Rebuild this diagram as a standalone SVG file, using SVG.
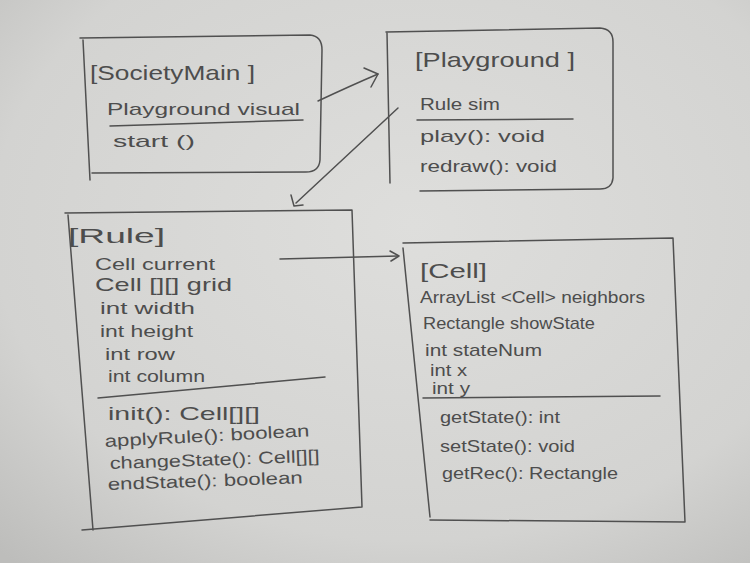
<svg xmlns="http://www.w3.org/2000/svg" width="750" height="563" viewBox="0 0 750 563">
<defs>
<radialGradient id="paper" cx="0.55" cy="0.4" r="0.8">
<stop offset="0" stop-color="#dededc"/>
<stop offset="0.7" stop-color="#d3d3d1"/>
<stop offset="1" stop-color="#bdbdbb"/>
</radialGradient>
<style>
.ln{fill:none;stroke:#505050;stroke-width:1.5;stroke-linecap:round;stroke-linejoin:round}
.t{font-family:"Liberation Sans","DejaVu Sans",sans-serif;fill:#4d4d4d;font-size:17px}
.w{font-size:19px}
.h{font-family:"Liberation Sans","DejaVu Sans",sans-serif;fill:#4d4d4d;font-size:21px}
</style>
</defs>
<rect width="750" height="563" fill="url(#paper)"/>

<g id="node-societymain">
<path class="ln" d="M83,40 L90,180"/>
<path class="ln" d="M80,38 L310,35 Q322,36 322,50 L320,160 Q319,172 306,172 L92,173"/>
<text class="h" x="90" y="80" textLength="165" lengthAdjust="spacingAndGlyphs">[SocietyMain ]</text>
<text class="t" x="107" y="115" textLength="193" lengthAdjust="spacingAndGlyphs">Playground visual</text>
<path class="ln" d="M110,126 L303,120"/>
<text class="t" x="113" y="147" textLength="82" lengthAdjust="spacingAndGlyphs">start ()</text>
</g>

<g id="node-playground">
<path class="ln" d="M387,33 L390,183"/>
<path class="ln" d="M386,32 L600,28 Q613,29 613,42 L613,178 Q612,189 600,189 L420,191"/>
<text class="h" x="415" y="67" textLength="160" lengthAdjust="spacingAndGlyphs">[Playground ]</text>
<text class="t" x="420" y="110" textLength="80" lengthAdjust="spacingAndGlyphs">Rule sim</text>
<path class="ln" d="M417,120 L573,119"/>
<text class="t" x="420" y="142" textLength="125" lengthAdjust="spacingAndGlyphs">play(): void</text>
<text class="t" x="420" y="172" textLength="137" lengthAdjust="spacingAndGlyphs">redraw(): void</text>
</g>

<g id="node-rule">
<path class="ln" d="M68,215 L93,530"/>
<path class="ln" d="M65,213 L352,210 L362,507 L82,530"/>
<text class="h" x="68" y="243" textLength="97" lengthAdjust="spacingAndGlyphs">[Rule]</text>
<text class="t" x="95" y="270" textLength="120" lengthAdjust="spacingAndGlyphs">Cell current</text>
<text class="t w" x="95" y="291" textLength="137" lengthAdjust="spacingAndGlyphs">Cell [][] grid</text>
<text class="t" x="100" y="314" textLength="95" lengthAdjust="spacingAndGlyphs">int width</text>
<text class="t" x="100" y="337" textLength="93" lengthAdjust="spacingAndGlyphs">int height</text>
<text class="t" x="105" y="360" textLength="70" lengthAdjust="spacingAndGlyphs">int row</text>
<text class="t" x="108" y="382" textLength="97" lengthAdjust="spacingAndGlyphs">int column</text>
<path class="ln" d="M98,398 L325,377"/>
<text class="t w" x="108" y="420" textLength="152" lengthAdjust="spacingAndGlyphs">init(): Cell[][]</text>
<text class="t" x="105" y="447" textLength="205" lengthAdjust="spacingAndGlyphs" transform="rotate(-3 105 447)">applyRule(): boolean</text>
<text class="t" x="110" y="469" textLength="210" lengthAdjust="spacingAndGlyphs" transform="rotate(-2 110 469)">changeState(): Cell[][]</text>
<text class="t" x="108" y="490" textLength="195" lengthAdjust="spacingAndGlyphs" transform="rotate(-2 108 490)">endState(): boolean</text>
</g>

<g id="node-cell">
<path class="ln" d="M403,248 L430,517"/>
<path class="ln" d="M403,243 L673,238 L685,522 L430,520"/>
<text class="h" x="420" y="278" textLength="67" lengthAdjust="spacingAndGlyphs">[Cell]</text>
<text class="t" x="420" y="303" textLength="225" lengthAdjust="spacingAndGlyphs">ArrayList &lt;Cell&gt; neighbors</text>
<text class="t" x="423" y="329" textLength="172" lengthAdjust="spacingAndGlyphs">Rectangle showState</text>
<text class="t" x="425" y="356" textLength="117" lengthAdjust="spacingAndGlyphs">int stateNum</text>
<text class="t" x="430" y="376" textLength="37" lengthAdjust="spacingAndGlyphs">int x</text>
<text class="t" x="432" y="394" textLength="38" lengthAdjust="spacingAndGlyphs">int y</text>
<path class="ln" d="M423,398 L660,396"/>
<text class="t" x="440" y="423" textLength="120" lengthAdjust="spacingAndGlyphs">getState(): int</text>
<text class="t" x="440" y="452" textLength="135" lengthAdjust="spacingAndGlyphs">setState(): void</text>
<text class="t" x="442" y="479" textLength="176" lengthAdjust="spacingAndGlyphs">getRec(): Rectangle</text>
</g>

<g id="connectors">
<path class="ln" d="M318,101 Q350,86 378,74"/>
<path class="ln" d="M364,68 L378,74 L371,87"/>
<path class="ln" d="M398,108 L296,203"/>
<path class="ln" d="M291,195 L294,206 L303,205"/>
<path class="ln" d="M280,259 L398,256"/>
<path class="ln" d="M390,251 L399,256 L391,261"/>
</g>
</svg>
